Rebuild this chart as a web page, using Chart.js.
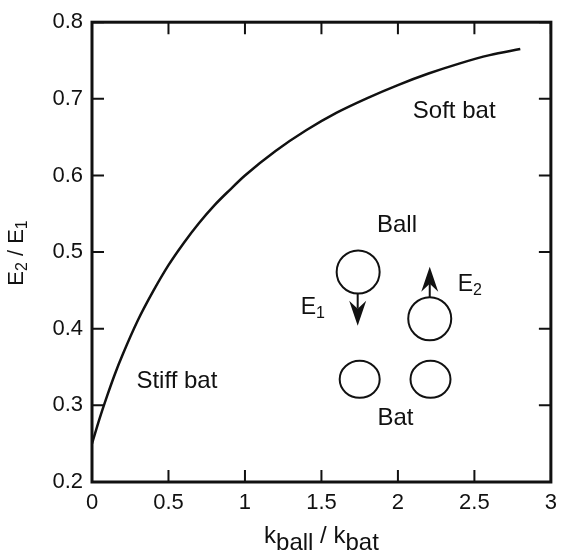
<!DOCTYPE html>
<html>
<head>
<meta charset="utf-8">
<script src="https://cdn.jsdelivr.net/npm/chart.js@4.4.0/dist/chart.umd.min.js"></script>
<style>
  body { margin: 0; background: #fff; }
  #wrap { width: 565px; height: 552px; }
</style>
</head>
<body>
<div id="wrap"><canvas id="chart" width="565" height="552"></canvas></div>
<script>
// k_ball / k_bat ratio and the E2/E1 energy ratio
const ratioValues = [0, 0.05, 0.1, 0.15, 0.2, 0.3, 0.4, 0.5, 0.6, 0.7, 0.8, 0.9, 1.0,
                     1.2, 1.4, 1.6, 1.8, 2.0, 2.2, 2.4, 2.6, 2.8];
const energyRatio = [0.25, 0.283, 0.313, 0.341, 0.366, 0.411, 0.449, 0.483, 0.512, 0.538, 0.561, 0.581, 0.600,
                     0.632, 0.659, 0.682, 0.701, 0.718, 0.733, 0.746, 0.757, 0.765];

const xTicks = [0, 0.5, 1, 1.5, 2, 2.5, 3];
const yTicks = [0.2, 0.3, 0.4, 0.5, 0.6, 0.7, 0.8];
const xTickLabels = ['0', '0.5', '1', '1.5', '2', '2.5', '3'];
const yTickLabels = ['0.2', '0.3', '0.4', '0.5', '0.6', '0.7', '0.8'];

const FONT = '"Liberation Sans", Arial, Helvetica, sans-serif';
const INK = '#111';

// annotation positions in data units
const labels = [
    {text: 'Soft bat', x: 2.368, y: 0.683},
    {text: 'Stiff bat', x: 0.555, y: 0.331},
    {text: 'Ball', x: 1.994, y: 0.535},
    {text: 'Bat', x: 1.984, y: 0.283},
];
const balls = [{x: 1.74, y: 0.474}, {x: 2.208, y: 0.413}];
const bats = [{x: 1.75, y: 0.334}, {x: 2.213, y: 0.334}];
const arrows = [
    {x: 1.737, from: 0.446, to: 0.404},
    {x: 2.208, from: 0.441, to: 0.481},
];
const energyLabels = [
    {sub: '1', x: 1.417, y: 0.419},
    {sub: '2', x: 2.443, y: 0.449},
];

/** draw text made of [text, size, dy] parts, starting at x (or centered) */
let drawParts = (ctx, parts, x, y, center) => {
    let total = 0;
    parts.forEach(p => {
        ctx.font = p[1] + 'px ' + FONT;
        total += ctx.measureText(p[0]).width;
    });
    let cx = center ? x - total / 2 : x;
    ctx.textAlign = 'left';
    ctx.textBaseline = 'alphabetic';
    parts.forEach(p => {
        ctx.font = p[1] + 'px ' + FONT;
        ctx.fillText(p[0], cx, y + p[2]);
        cx += ctx.measureText(p[0]).width;
    });
};

let drawArrow = (ctx, x, y1, y2) => {
    const dir = y2 > y1 ? 1 : -1;
    const len = 25, half = 8.5, notch = 8;
    ctx.beginPath();
    ctx.moveTo(x, y1);
    ctx.lineTo(x, y2 - dir * (len - notch));
    ctx.lineWidth = 2;
    ctx.stroke();
    ctx.beginPath();
    ctx.moveTo(x, y2);
    ctx.lineTo(x - half, y2 - dir * len);
    ctx.lineTo(x, y2 - dir * (len - notch));
    ctx.lineTo(x + half, y2 - dir * len);
    ctx.closePath();
    ctx.fill();
};

const framePlugin = {
    id: 'frame',
    afterDraw(chart) {
        const ctx = chart.ctx;
        const area = chart.chartArea;
        const xs = chart.scales.x, ys = chart.scales.y;
        ctx.save();
        ctx.strokeStyle = INK;
        ctx.fillStyle = INK;

        // inward ticks on all four sides
        const tl = 12;
        ctx.lineWidth = 2;
        ctx.beginPath();
        xTicks.forEach(v => {
            const px = xs.getPixelForValue(v);
            ctx.moveTo(px, area.bottom); ctx.lineTo(px, area.bottom - tl);
            ctx.moveTo(px, area.top); ctx.lineTo(px, area.top + tl);
        });
        yTicks.forEach(v => {
            const py = ys.getPixelForValue(v);
            ctx.moveTo(area.left, py); ctx.lineTo(area.left + tl, py);
            ctx.moveTo(area.right, py); ctx.lineTo(area.right - tl, py);
        });
        ctx.stroke();

        ctx.lineWidth = 3;
        ctx.strokeRect(area.left, area.top, area.right - area.left, area.bottom - area.top);

        // axis titles
        drawParts(ctx, [['k', 24, 0], ['ball', 24, 7], [' / ', 24, 0], ['k', 24, 0], ['bat', 24, 7]],
            (area.left + area.right) / 2, 543, true);
        ctx.save();
        ctx.translate(23, 253);
        ctx.rotate(-Math.PI / 2);
        drawParts(ctx, [['E', 22, 0], ['2', 16, 4], [' / ', 22, 0], ['E', 22, 0], ['1', 16, 4]], 0, 0, true);
        ctx.restore();

        // annotations
        ctx.font = '24px ' + FONT;
        ctx.textAlign = 'center';
        ctx.textBaseline = 'middle';
        labels.forEach(l => {
            ctx.fillText(l.text, xs.getPixelForValue(l.x), ys.getPixelForValue(l.y));
        });
        energyLabels.forEach(l => {
            drawParts(ctx, [['E', 23, 0], [l.sub, 16, 4]], xs.getPixelForValue(l.x) - 8, ys.getPixelForValue(l.y), false);
        });

        ctx.lineWidth = 2;
        balls.forEach(b => {
            ctx.beginPath();
            ctx.arc(xs.getPixelForValue(b.x), ys.getPixelForValue(b.y), 21.5, 0, Math.PI * 2);
            ctx.stroke();
        });
        bats.forEach(b => {
            ctx.beginPath();
            ctx.ellipse(xs.getPixelForValue(b.x), ys.getPixelForValue(b.y), 20, 18.5, 0, 0, Math.PI * 2);
            ctx.stroke();
        });
        arrows.forEach(a => {
            drawArrow(ctx, xs.getPixelForValue(a.x), ys.getPixelForValue(a.from), ys.getPixelForValue(a.to));
        });
        ctx.restore();
    }
};

new Chart(document.getElementById('chart'), {
    type: 'line',
    data: {
        datasets: [{
            data: ratioValues.map((r, i) => ({x: r, y: energyRatio[i]})),
            borderColor: INK,
            borderWidth: 2.5,
            pointRadius: 0,
            cubicInterpolationMode: 'monotone',
            fill: false,
        }]
    },
    options: {
        responsive: false,
        animation: false,
        devicePixelRatio: 1,
        layout: {padding: {top: 21, right: 9, left: 0, bottom: 0}},
        plugins: {
            legend: {display: false},
            tooltip: {enabled: false},
        },
        scales: {
            x: {
                type: 'linear',
                min: 0,
                max: 3,
                afterBuildTicks: scale => { scale.ticks = xTicks.map(v => ({value: v})); },
                afterFit: scale => { scale.height = 70; },
                border: {display: false},
                grid: {display: false, drawTicks: false},
                ticks: {
                    padding: 8,
                    color: INK,
                    maxRotation: 0,
                    font: {size: 22, family: FONT},
                    callback: (v, i) => xTickLabels[i],
                },
            },
            y: {
                type: 'linear',
                min: 0.2,
                max: 0.8,
                afterBuildTicks: scale => { scale.ticks = yTicks.map(v => ({value: v})); },
                afterFit: scale => { scale.width = 92; },
                border: {display: false},
                grid: {display: false, drawTicks: false},
                ticks: {
                    padding: 9,
                    color: INK,
                    font: {size: 22, family: FONT},
                    callback: (v, i) => yTickLabels[i],
                },
            },
        },
    },
    plugins: [framePlugin],
});
</script>
</body>
</html>
